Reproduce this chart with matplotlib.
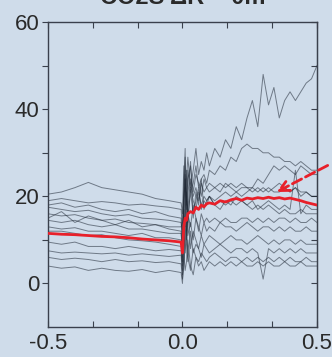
import matplotlib.pyplot as plt

# x positions (pre / post event)
pre_x = [-0.5, -0.45, -0.4, -0.35, -0.3, -0.25, -0.2, -0.15, -0.1, -0.05, -0.005]
post_x = [0.0, 0.005, 0.01, 0.015, 0.02, 0.03, 0.04, 0.05, 0.06, 0.07, 0.08, 0.09, 0.1,
          0.12, 0.14, 0.16, 0.18, 0.2, 0.22, 0.24, 0.26, 0.28, 0.3, 0.32, 0.34, 0.36,
          0.38, 0.4, 0.42, 0.44, 0.46, 0.48, 0.5]

# individual traces: (pre values, post values)
trace_a = ([20.5, 21.0, 22.0, 23.2, 22.0, 21.5, 21.0, 20.5, 19.5, 19.0, 18.5],
           [16, 27, 21, 24, 29, 22, 26, 31, 25, 28, 26, 30, 27, 31, 29, 33, 31, 36, 33, 38,
            42, 36, 48, 41, 45, 38, 42, 44, 42, 44, 46, 47, 50])
trace_b = ([19.0, 19.5, 19.0, 18.5, 18.8, 18.5, 18.0, 18.2, 17.8, 17.5, 17.0],
           [12, 19, 24, 17, 26, 21, 23, 27, 22, 24, 25, 23, 26, 25, 27, 26, 29, 28, 31, 32,
            31, 31, 30, 30, 29, 29, 28, 28, 27, 28, 27, 26, 26])
trace_c = ([17.5, 17.0, 16.5, 16.8, 16.0, 15.5, 15.8, 15.0, 14.8, 14.5, 14.0],
           [10, 14, 22, 19, 17, 24, 20, 22, 19, 23, 21, 22, 23, 22, 23, 22, 23, 22, 23, 22,
            22, 24, 23, 25, 27, 26, 27, 26, 25, 27, 26, 25, 25])
trace_d = ([16.0, 15.5, 15.8, 15.0, 14.5, 14.8, 14.0, 13.8, 13.5, 13.0, 13.0],
           [14, 21, 29, 18, 24, 27, 21, 25, 23, 20, 24, 22, 21, 22, 21, 23, 22, 21, 22, 22,
            21, 22, 21, 22, 21, 21, 22, 21, 22, 20, 21, 20, 20])
trace_e = ([14.5, 14.0, 14.5, 13.5, 13.0, 13.5, 12.5, 12.5, 12.0, 11.5, 11.5],
           [8, 17, 13, 26, 15, 21, 16, 19, 22, 17, 19, 18, 20, 18, 19, 18, 19, 18, 19, 18,
            17, 18, 17, 18, 17, 16, 17, 16, 16, 17, 16, 16, 16])
trace_f = ([13.0, 12.5, 12.8, 12.0, 12.0, 11.5, 11.0, 11.5, 10.5, 10.5, 10.0],
           [5, 19, 24, 10, 16, 13, 18, 15, 12, 16, 14, 15, 14, 15, 14, 15, 14, 14, 15, 15,
            14, 15, 14, 15, 14, 15, 15, 14, 15, 14, 14, 15, 14])
trace_g = ([12.0, 12.0, 11.5, 11.0, 11.2, 10.5, 10.0, 9.8, 9.5, 9.0, 8.5],
           [4, 9, 17, 21, 11, 14, 10, 15, 13, 11, 14, 12, 13, 12, 14, 13, 13, 12, 13, 14,
            13, 12, 13, 13, 12, 13, 12, 13, 12, 12, 13, 12, 12])
trace_h = ([9.5, 9.0, 9.5, 8.5, 8.5, 8.0, 8.5, 8.0, 7.5, 7.8, 7.5],
           [3, 13, 7, 11, 17, 8, 12, 10, 8, 11, 9, 10, 11, 10, 9, 10, 11, 10, 10, 9,
            10, 11, 10, 9, 10, 9, 10, 10, 9, 10, 9, 9, 9])
trace_i = ([7.5, 7.0, 7.2, 7.0, 6.8, 7.0, 6.5, 6.8, 6.5, 6.2, 6.5],
           [2, 6, 14, 9, 5, 12, 7, 9, 8, 6, 9, 8, 7, 8, 9, 8, 7, 8, 8, 7,
            8, 7, 1, 8, 7, 8, 7, 8, 7, 8, 7, 7, 7])
trace_j = ([6.0, 5.5, 5.8, 5.5, 5.0, 5.5, 5.0, 5.2, 4.8, 5.0, 4.5],
           [1, 4, 9, 14, 6, 3, 8, 6, 5, 7, 6, 5, 6, 7, 6, 5, 6, 6, 5, 6,
            5, 6, 5, 6, 5, 6, 5, 6, 5, 5, 6, 5, 5])
trace_k = ([4.0, 3.5, 3.8, 3.0, 3.5, 3.0, 2.8, 3.2, 2.5, 3.0, 2.5],
           [0, 7, 3, 5, 10, 4, 2, 6, 4, 5, 3, 4, 5, 4, 5, 4, 5, 4, 5, 4,
            4, 5, 4, 5, 4, 4, 5, 4, 4, 5, 4, 4, 4])
trace_l = ([15.0, 16.5, 14.0, 15.5, 14.5, 13.5, 14.5, 13.0, 13.5, 12.5, 12.0],
           [6, 23, 31, 12, 20, 28, 15, 21, 18, 24, 17, 19, 20, 18, 17, 19, 18, 20, 19, 18,
            19, 17, 18, 19, 18, 17, 18, 17, 26, 16, 18, 17, 17])
trace_m = ([18.0, 18.5, 17.5, 18.0, 17.0, 16.5, 17.0, 16.0, 16.5, 15.5, 15.0],
           [9, 16, 25, 20, 14, 22, 19, 17, 21, 18, 20, 19, 20, 19, 20, 21, 20, 21, 20, 21,
            22, 21, 22, 21, 22, 23, 22, 21, 22, 21, 21, 20, 20])
traces = [trace_a, trace_b, trace_c, trace_d, trace_e, trace_f, trace_g,
          trace_h, trace_i, trace_j, trace_k, trace_l, trace_m]

# mean curve (red)
mean_pre = [11.5, 11.3, 11.2, 11.0, 10.8, 10.7, 10.5, 10.2, 10.0, 9.8, 9.5]
mean_post = [7, 13, 15, 14.5, 16, 16.5, 16.2, 17.5, 17, 18, 17.6, 18.3, 18.5, 18.2, 19, 18.7,
             19.2, 19.5, 19.1, 19.6, 19.4, 19.7, 19.5, 19.8, 19.5, 19.7, 19.4, 19.6,
             19.3, 19.0, 18.6, 18.3, 18.0]

title_text = 'CO2S ΔR = 0m'
bg = '#cfdcea'
spine_col = '#3a404c'

plt.rcParams['font.family'] = ['Liberation Sans', 'DejaVu Sans']

fig = plt.figure(figsize=(3.32, 3.57), dpi=100, facecolor=bg)
ax = fig.add_axes([0.1446, 0.084, 0.810, 0.854], facecolor=bg)

for pre, post in traces:
    ax.plot(pre_x + post_x, pre + post, color='#1f2835', alpha=0.55, lw=0.7)

ax.plot(pre_x + post_x, mean_pre + mean_post, color='#e8202a', lw=2, zorder=5)

ax.annotate('', xy=(0.35, 21), xytext=(1.04, 0.53), textcoords='axes fraction',
            annotation_clip=False,
            arrowprops=dict(arrowstyle='->', color='#e8202a', lw=2, linestyle='--',
                            mutation_scale=18, shrinkA=0, shrinkB=0))

ax.set_xlim(-0.5, 0.5)
ax.set_ylim(-10, 60)
ax.set_xticks([-0.5, -1/3, -1/6, 0, 1/6, 1/3, 0.5])
ax.set_xticklabels(['-0.5', '', '', '0.0', '', '', '0.5'])
ax.set_yticks([0, 10, 20, 30, 40, 50, 60])
ax.set_yticklabels(['0', '', '20', '', '40', '', '60'])

ax.tick_params(axis='x', direction='in', top=True, bottom=True, length=4,
               color=spine_col, labelsize=16, labelcolor='#2a2a2a', pad=4)
ax.tick_params(axis='y', direction='out', left=True, length=4,
               color=spine_col, labelsize=16, labelcolor='#2a2a2a', pad=2)
for s in ax.spines.values():
    s.set_color(spine_col)
    s.set_linewidth(1)

sec = ax.secondary_yaxis('right')
sec.set_yticks([0, 10, 20, 30, 40, 50, 60])
sec.tick_params(direction='in', length=4, color=spine_col, labelright=False)
sec.spines['right'].set_color(spine_col)

# title sits mostly above the top edge, as in the cropped original
fig.text(0.55, 0.99, title_text, ha='center', va='baseline', fontsize=17,
         fontweight='bold', color='#2a2a2a')

plt.savefig('out.png', dpi=100, facecolor=bg)
